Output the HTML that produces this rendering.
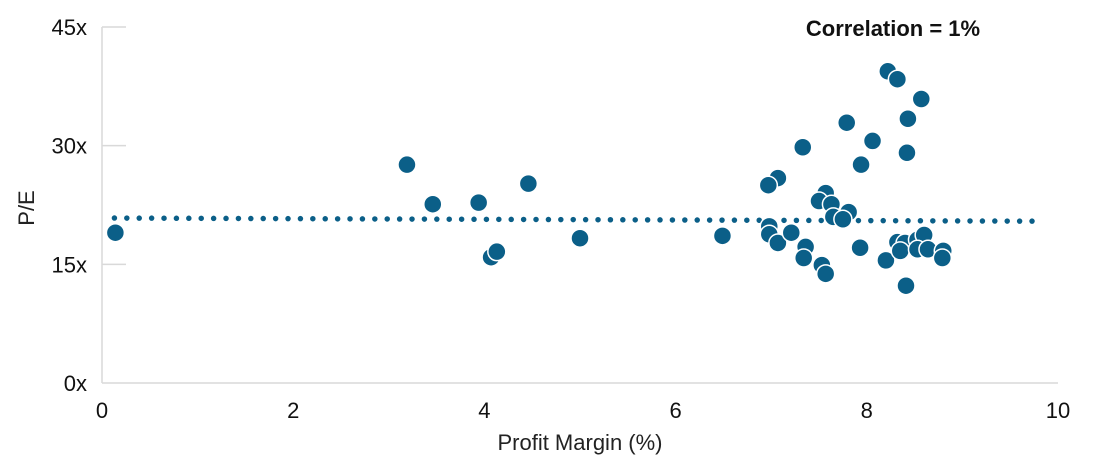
<!DOCTYPE html>
<html><head><meta charset="utf-8"><style>
html,body{margin:0;padding:0;background:#fff;}
svg{display:block;font-family:"Liberation Sans",Arial,sans-serif;}
</style></head><body>
<svg id="chart" width="1100" height="465" viewBox="0 0 1100 465">
<g id="axes"></g>
<g id="trend"></g>
<g id="pts"></g>
<text x="893" y="36" text-anchor="middle" font-size="22" font-weight="bold" fill="#111">Correlation = 1%</text>
<text x="580" y="450" text-anchor="middle" font-size="22" fill="#222">Profit Margin (%)</text>
<text transform="translate(34,208) rotate(-90)" text-anchor="middle" font-size="22" fill="#222">P/E</text>
</svg>
<script>
const xTicks=[0,2,4,6,8,10];
const yTicks=[0,15,30,45];
const yTickLabels=["0x","15x","30x","45x"];
const margin=[0.14,3.19,3.46,3.94,4.46,4.07,4.13,5.0,6.49,8.22,8.32,8.57,7.79,8.43,7.33,8.06,8.42,7.94,7.07,6.97,7.57,7.50,7.63,7.81,7.65,7.75,6.98,6.98,7.07,7.21,7.36,7.34,7.53,7.57,7.93,8.20,8.32,8.40,8.35,8.53,8.60,8.53,8.64,8.80,8.79,8.41];
const pe=[19.0,27.6,22.6,22.8,25.2,15.9,16.6,18.3,18.6,39.4,38.4,35.9,32.9,33.4,29.8,30.6,29.1,27.6,25.9,25.0,24.0,23.0,22.6,21.6,21.0,20.7,19.8,18.8,17.7,19.0,17.2,15.8,14.9,13.8,17.1,15.5,17.8,17.7,16.7,18.1,18.7,16.9,16.9,16.7,15.8,12.3];
const trendX=[0.13,9.84];
const trendY=[20.85,20.45];
const NS="http://www.w3.org/2000/svg";
const X0=102,X1=1058,Y0=383,Y1=27;
const sx=v=>X0+(v-0)/(10-0)*(X1-X0);
const sy=v=>Y0-(v-0)/(45-0)*(Y0-Y1);
function mk(tag,attrs,parent){const e=document.createElementNS(NS,tag);for(const k in attrs)e.setAttribute(k,attrs[k]);parent.appendChild(e);return e;}
const axes=document.getElementById('axes');
let l=mk('line',{x1:X0,y1:Y1,x2:X0,y2:Y0,stroke:'#d9d9d9','stroke-width':1.5},axes);


l=mk('line',{x1:X0,y1:Y0,x2:X1,y2:Y0,stroke:'#d9d9d9','stroke-width':1.5},axes);


yTicks.forEach((t,i)=>{
  const y=sy(t);
  if(t>0){const tk=mk('line',{x1:X0,y1:y,x2:X0+24,y2:y,stroke:'#d9d9d9','stroke-width':1.5},axes);
  
  }
  const tx=mk('text',{x:87,y:y+8,'text-anchor':'end','font-size':22,fill:'#111'},axes);
  tx.textContent=yTickLabels[i];
  
  
});
xTicks.forEach(t=>{
  const tx=mk('text',{x:sx(t),y:418,'text-anchor':'middle','font-size':22,fill:'#111'},axes);
  tx.textContent=String(t);
  
  
});
const tr=document.getElementById('trend');
const tl=mk('line',{x1:sx(trendX[0]),y1:sy(trendY[0]),x2:sx(trendX[1]),y2:sy(trendY[1]),stroke:'#0b5f88','stroke-width':5.5,'stroke-linecap':'round','stroke-dasharray':'0 12.4'},tr);


const pts=document.getElementById('pts');
margin.forEach((m,i)=>{
  const c=mk('circle',{cx:sx(m),cy:sy(pe[i]),r:9,fill:'#0b5f88',stroke:'#fff','stroke-width':1.5},pts);
  
  
});
</script>
</body></html>
